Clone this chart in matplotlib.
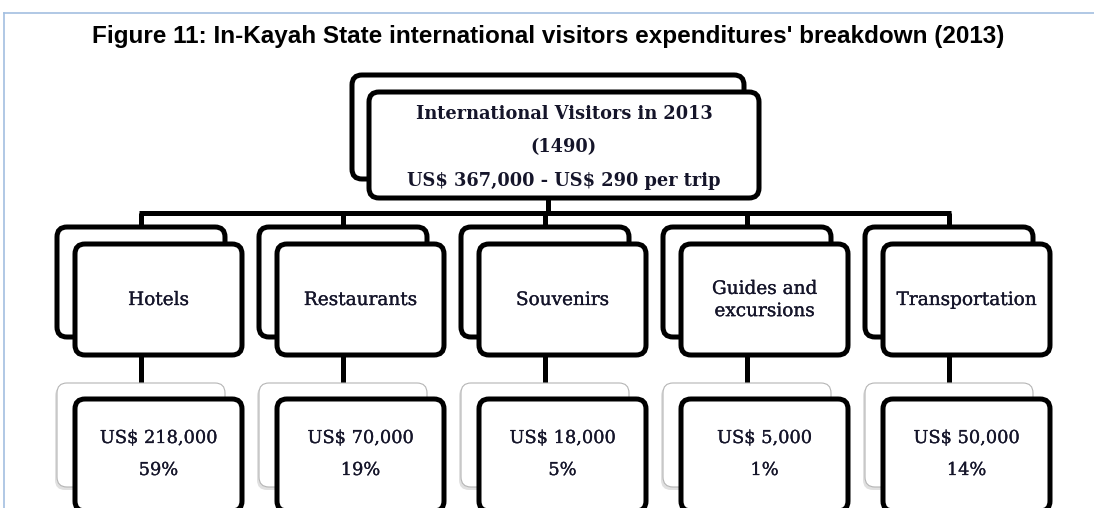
import matplotlib
matplotlib.use("Agg")
import matplotlib.pyplot as plt
import matplotlib.patheffects as pe
from matplotlib.patches import FancyBboxPatch

# ---- data ----
title = "Figure 11: In-Kayah State international visitors expenditures' breakdown (2013)"
visitors_year = 2013
visitors_count = 1490
total_spend = 367000
per_trip = 290
categories = ["Hotels", "Restaurants", "Souvenirs", "Guides and\nexcursions", "Transportation"]
amounts = [218000, 70000, 18000, 5000, 50000]
shares = [59, 19, 5, 1, 14]

# ---- layout (pixel units) ----
W, H = 1094, 508
fig = plt.figure(figsize=(W / 100, H / 100), dpi=100)
ax = fig.add_axes([0, 0, 1, 1])
ax.set_xlim(0, W)
ax.set_ylim(H, 0)
ax.axis("off")

LW = 3.6
TXT = "#15152a"
SERIF = ["DejaVu Serif"]
THICK = [pe.withStroke(linewidth=0.2, foreground=TXT)]


def rbox(x, y, w, h, lw=LW, ec="black", z=2, r=10):
    p = FancyBboxPatch((x, y), w, h, boxstyle=f"round,pad=0,rounding_size={r}",
                       fc="white", ec=ec, lw=lw, zorder=z)
    ax.add_patch(p)
    return p


def line(xs, ys, z=1):
    ax.plot(xs, ys, color="black", lw=LW, solid_capstyle="butt", zorder=z)


def label(x, y, s, size, weight="normal", effects=None, **kw):
    ax.text(x, y, s, ha="center", va="center", fontsize=size, fontweight=weight,
            family=SERIF, color=TXT, zorder=5, parse_math=False,
            path_effects=effects, **kw)


# page border
ax.plot([4, W], [13, 13], color="#a3bfe0", lw=1.2, zorder=0)
ax.plot([4, 4], [13, H], color="#a3bfe0", lw=1.2, zorder=0)

# title
ax.text(548, 37, title, ha="center", va="center", fontsize=17.5,
        fontweight="bold", family=["Liberation Sans"], color="black",
        parse_math=False)

# top box
tx, ty, tw, th, off = 352, 75, 392, 104, 17
rbox(tx, ty, tw, th, z=2)
rbox(tx + off, ty + off, tw - 2, th + 2, z=3)
cx_top = tx + off + (tw - 2) / 2
top_lines = [f"International Visitors in {visitors_year}",
             f"({visitors_count})",
             f"US$ {total_spend:,} - US$ {per_trip} per trip"]
for i, s in enumerate(top_lines):
    label(cx_top, 114 + i * 33.5, s, 12.8, "bold")

# connectors
bar_y = 213
col_left0, col_step, bw = 57, 202, 168
n = len(categories)
centers = [col_left0 + i * col_step + bw / 2 for i in range(n)]
line([tx + tw / 2, tx + tw / 2], [ty + off + th + 2, bar_y])
line([centers[0] - 1.8, centers[-1] + 1.8], [bar_y, bar_y])

cat_y, cat_h = 227, 110
val_y, val_h = 383, 104
dx, dy = 18, 17
for i, (cat, amt, sh) in enumerate(zip(categories, amounts, shares)):
    x0 = col_left0 + i * col_step
    c = centers[i]
    line([c, c], [bar_y, cat_y])
    # category boxes
    rbox(x0, cat_y, bw, cat_h, z=2)
    rbox(x0 + dx, cat_y + dy, bw - 1, cat_h + 1, z=3)
    fc = x0 + dx + (bw - 1) / 2
    label(fc, 300, cat, 13.3, effects=THICK, linespacing=1.3)
    line([c, c], [cat_y + dy + cat_h + 1, val_y])
    # value boxes: light shadowed back box + bold front box
    ax.add_patch(FancyBboxPatch((x0 - 2, val_y + 3), bw, val_h,
                                boxstyle="round,pad=0,rounding_size=10",
                                fc="#d9d9d9", ec="none", zorder=1.5, alpha=0.8))
    rbox(x0, val_y, bw, val_h, lw=0.8, ec="#b5b5b5", z=2)
    rbox(x0 + dx, val_y + 16, bw - 1, 112, z=3)
    label(fc, 438, f"US$ {amt:,}", 12.8, effects=THICK)
    label(fc, 470, f"{sh}%", 12.8, effects=THICK)

fig.savefig("out.png", dpi=100)
